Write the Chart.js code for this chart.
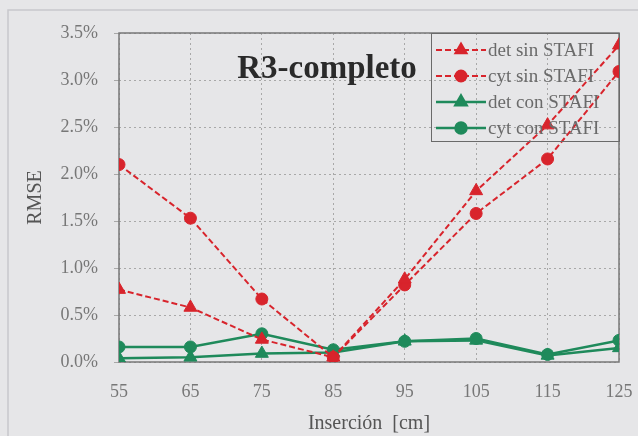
<!DOCTYPE html>
<html>
<head>
<meta charset="utf-8">
<script src="https://cdn.jsdelivr.net/npm/chart.js@4.4.0/dist/chart.umd.min.js"></script>
<style>
  html, body { margin: 0; padding: 0; background: #e6e6e8; }
  #wrap { width: 638px; height: 436px; position: relative; }
</style>
</head>
<body>
<div id="wrap"><canvas id="rmseChart" width="638" height="436"></canvas></div>
<script>
const insercion = [55, 65, 75, 85, 95, 105, 115, 125];
const detSin = [0.77, 0.58, 0.24, 0.05, 0.88, 1.82, 2.52, 3.37];
const cytSin = [2.10, 1.53, 0.67, 0.05, 0.82, 1.58, 2.16, 3.09];
const detCon = [0.04, 0.05, 0.09, 0.10, 0.22, 0.23, 0.07, 0.15];
const cytCon = [0.16, 0.16, 0.30, 0.13, 0.22, 0.25, 0.08, 0.23];
const yTicks = [0, 0.5, 1.0, 1.5, 2.0, 2.5, 3.0, 3.5];

const RED = '#d8242c';
const GREEN = '#1f8a5b';
const SERIF = '"Liberation Serif", "DejaVu Serif", serif';

function pts(vals) {
  return vals.map((v, i) => ({ x: insercion[i], y: v }));
}

function serie(label, vals, color, style, dashed) {
  return {
    label: label,
    data: pts(vals),
    borderColor: color,
    backgroundColor: color,
    borderWidth: dashed ? 2 : 2.5,
    borderDash: dashed ? [6, 3] : [],
    pointStyle: style,
    pointRadius: style === 'triangle' ? 7.5 : 6,
    pointBorderWidth: 1,
    tension: 0
  };
}

// solid frame round the plot, title and boxed legend
const extras = {
  id: 'extras',
  beforeDatasetsDraw(chart) {
    const a = chart.chartArea;
    const ctx = chart.ctx;
    ctx.save();
    ctx.strokeStyle = '#777';
    ctx.lineWidth = 1.5;
    ctx.strokeRect(a.left, a.top, a.right - a.left, a.bottom - a.top);
    ctx.restore();
  },
  afterDraw(chart) {
    const ctx = chart.ctx;
    ctx.save();
    ctx.fillStyle = '#2a2a2a';
    ctx.font = 'bold 33px ' + SERIF;
    ctx.textAlign = 'center';
    ctx.textBaseline = 'middle';
    ctx.fillText('R3-completo', 327, 69);

    ctx.strokeStyle = '#6a6a6a';
    ctx.lineWidth = 1;
    ctx.strokeRect(431.5, 33.5, 188, 108);

    ctx.font = '19px ' + SERIF;
    ctx.textAlign = 'left';
    chart.data.datasets.forEach((ds, i) => {
      const y = 50 + i * 26;
      ctx.strokeStyle = ds.borderColor;
      ctx.lineWidth = ds.borderWidth;
      ctx.setLineDash(ds.borderDash);
      ctx.beginPath();
      ctx.moveTo(436, y);
      ctx.lineTo(486, y);
      ctx.stroke();
      ctx.setLineDash([]);
      ctx.fillStyle = ds.backgroundColor;
      const r = ds.pointStyle === 'triangle' ? 6.5 : 5.5;
      Chart.helpers.drawPoint(ctx, { pointStyle: ds.pointStyle, radius: r, rotation: 0, borderWidth: 1 }, 461, y);
      ctx.fillStyle = '#6a6a6a';
      ctx.fillText(ds.label, 488, y + 1);
    });

    ctx.strokeStyle = '#c8c8cc';
    ctx.lineWidth = 1.5;
    ctx.strokeRect(8, 10, 640, 440);
    ctx.restore();
  }
};

new Chart(document.getElementById('rmseChart'), {
  type: 'line',
  data: {
    datasets: [
      serie('det sin STAFI', detSin, RED, 'triangle', true),
      serie('cyt sin STAFI', cytSin, RED, 'circle', true),
      serie('det con STAFI', detCon, GREEN, 'triangle', false),
      serie('cyt con STAFI', cytCon, GREEN, 'circle', false)
    ]
  },
  options: {
    responsive: false,
    animation: false,
    layout: { padding: { left: 20, right: 0, top: 33, bottom: 0 } },
    scales: {
      x: {
        type: 'linear',
        min: 55,
        max: 125,
        afterBuildTicks: s => { s.ticks = insercion.map(v => ({ value: v })); },
        afterFit: s => { s.height = 74; s.paddingRight = 19; },
        grid: { color: '#a8a8a8', drawTicks: false, lineWidth: 1 },
        border: { display: false, dash: [2, 3] },
        ticks: { color: '#777', font: { family: SERIF, size: 18 }, padding: 19 },
        title: { display: true, text: 'Inserción  [cm]', color: '#555', font: { family: SERIF, size: 20 }, padding: { top: 4, bottom: 0 } }
      },
      y: {
        min: 0,
        max: 3.5,
        afterBuildTicks: s => { s.ticks = yTicks.map(v => ({ value: v })); },
        afterFit: s => { s.width = 99; },
        grid: { color: '#a8a8a8', drawTicks: true, tickLength: 5, lineWidth: 1 },
        border: { display: false, dash: [2, 3] },
        ticks: { color: '#777', font: { family: SERIF, size: 18 }, padding: 16, callback: v => v.toFixed(1) + '%' },
        title: { display: true, text: 'RMSE', color: '#555', font: { family: SERIF, size: 20 }, padding: { bottom: 0 } }
      }
    },
    plugins: {
      legend: { display: false },
      tooltip: { enabled: false }
    }
  },
  plugins: [extras]
});
</script>
</body>
</html>
